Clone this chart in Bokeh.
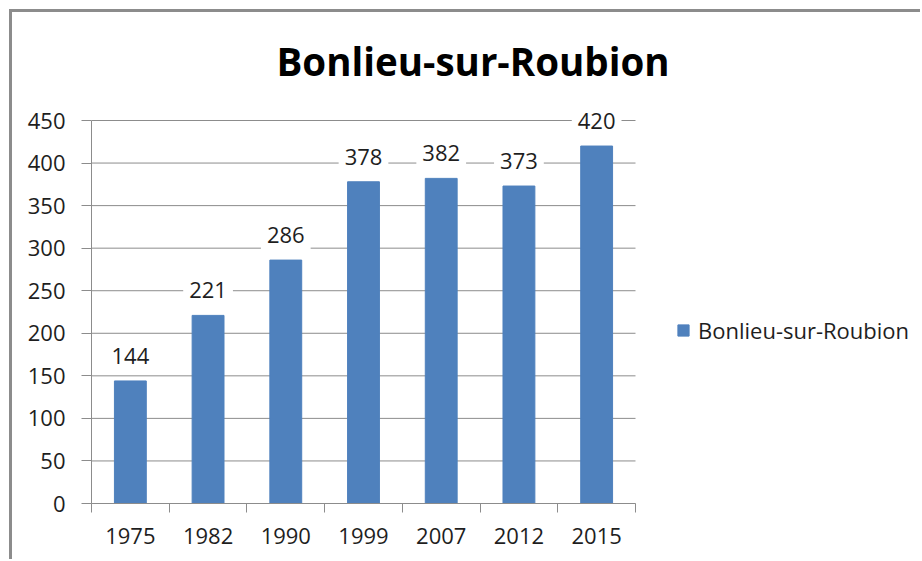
from bokeh.plotting import figure
from bokeh.models import ColumnDataSource, FixedTicker, Label, Legend, LegendItem, Range1d
from bokeh.embed import file_html
from bokeh.resources import INLINE

# ---- data ----
years = ["1975", "1982", "1990", "1999", "2007", "2012", "2015"]
population = [144, 221, 286, 378, 382, 373, 420]
y_ticks = [0, 50, 100, 150, 200, 250, 300, 350, 400, 450]
series_name = "Bonlieu-sur-Roubion"
title_text = "Bonlieu-sur-Roubion"

FONT = "Open Sans"
BAR = "#4F81BD"
GRAY = "#8C8C8C"
TXT = "#1E1E1E"

# ---- layout (pixels) ----
LEFT, TOP, BOTTOM = 79, 90, 56
FRAME_W, FRAME_H = 829, 401
AXIS_W, AXIS_H = 544, 383          # pixel size of the visible axes area

n = len(years)
centers = [i + 0.5 for i in range(n)]
bounds = list(range(n + 1))
src = ColumnDataSource(dict(x=centers, top=population))

x_end = n * FRAME_W / AXIS_W
y_end = y_ticks[-1] * FRAME_H / AXIS_H

p = figure(frame_width=FRAME_W, frame_height=FRAME_H, output_backend="svg", toolbar_location=None,
           x_range=Range1d(0, x_end), y_range=Range1d(y_ticks[0], y_end),
           min_border_left=LEFT, min_border_top=TOP, min_border_bottom=BOTTOM, min_border_right=0)
p.styles = {"border-top": "3px solid #8c8c8c", "border-left": "3px solid #8c8c8c",
            "margin-left": "9px", "margin-top": "9px"}

p.title.text = title_text
p.title.text_font = FONT
p.title.text_font_style = "bold"
p.title.text_font_size = "38.5px"
p.title.text_color = "#000000"
p.title.align = "left"
p.title.offset = 185
p.title.standoff = 32

p.outline_line_color = None
p.background_fill_color = "white"
p.border_fill_color = "white"

# horizontal grid lines, limited to the category area
p.xgrid.visible = False
p.ygrid.visible = False
p.segment(x0=[0] * len(y_ticks), x1=[n] * len(y_ticks), y0=y_ticks, y1=y_ticks,
          line_color=GRAY, line_width=1)

r = p.vbar(x="x", top="top", width=0.41, source=src, fill_color=BAR, line_color=BAR)

# y axis
p.yaxis.ticker = FixedTicker(ticks=y_ticks)
p.yaxis.bounds = (y_ticks[0], y_ticks[-1])
p.yaxis.axis_line_color = GRAY
p.yaxis.major_tick_line_color = GRAY
p.yaxis.major_tick_out = 10
p.yaxis.major_tick_in = 0
p.yaxis.minor_tick_line_color = None
p.yaxis.major_label_text_font = FONT
p.yaxis.major_label_text_font_size = "22px"
p.yaxis.major_label_text_color = TXT
p.yaxis.major_label_standoff = 16

# x axis: ticks at category boundaries, labels at centers
p.xaxis.ticker = FixedTicker(ticks=centers, minor_ticks=bounds)
p.xaxis.bounds = (0, n)
p.xaxis.major_label_overrides = {c: y for c, y in zip(centers, years)}
p.xaxis.axis_line_color = GRAY
p.xaxis.major_tick_line_color = None
p.xaxis.major_tick_out = 0
p.xaxis.major_tick_in = 0
p.xaxis.minor_tick_line_color = GRAY
p.xaxis.minor_tick_out = 9
p.xaxis.minor_tick_in = 0
p.xaxis.major_label_text_font = FONT
p.xaxis.major_label_text_font_size = "22px"
p.xaxis.major_label_text_color = TXT
p.xaxis.major_label_standoff = 15

for c, v in zip(centers, population):
    p.add_layout(Label(x=c, y=v, text=str(v), y_offset=25,
                       text_align="center", text_baseline="middle",
                       text_font=FONT, text_font_size="22px", text_color=TXT,
                       background_fill_color="white", border_line_color=None,
                       padding=6))

legend = Legend(items=[LegendItem(label=series_name, renderers=[r])],
                location=(585, 158), border_line_color=None, background_fill_alpha=0,
                padding=0, margin=0,
                glyph_width=14, glyph_height=14, label_standoff=8,
                label_text_font=FONT, label_text_font_size="22px", label_text_color=TXT)
p.add_layout(legend)

open("out.html", "w").write(file_html(p, INLINE))
